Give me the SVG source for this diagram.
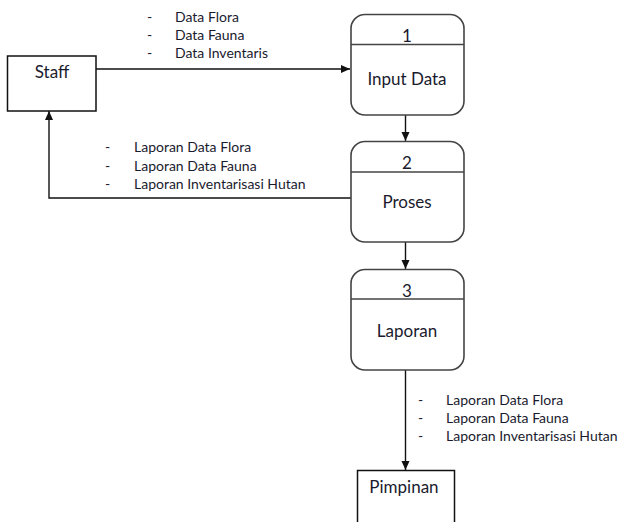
<svg xmlns="http://www.w3.org/2000/svg" width="620" height="522" viewBox="0 0 620 522">
<style>
.t{font-family:Lato,"Liberation Sans",sans-serif;font-size:14px;fill:#1a1a2e}
.n{font-family:Lato,"Liberation Sans",sans-serif;font-size:17px;fill:#1a1a2e;text-anchor:middle}
.ent{fill:#fff;stroke:#111;stroke-width:1.5}
.proc{fill:#fff;stroke:#444;stroke-width:1.6}
.div{stroke:#444;stroke-width:1.4}
.c{fill:none;stroke:#111;stroke-width:1.4}
</style>
<defs>
<marker id="ah" markerWidth="10" markerHeight="10" refX="9" refY="5" orient="auto" markerUnits="userSpaceOnUse">
<path d="M0,1 L9,5 L0,9 Z" fill="#111"/>
</marker>
</defs>
<rect width="620" height="522" fill="#fff"/>
<g id="connectors">
<line class="c" x1="96" y1="69" x2="350" y2="69" marker-end="url(#ah)"/>
<line class="c" x1="405.5" y1="115" x2="405.5" y2="141" marker-end="url(#ah)"/>
<line class="c" x1="405.5" y1="242" x2="405.5" y2="269" marker-end="url(#ah)"/>
<line class="c" x1="405.5" y1="370" x2="405.5" y2="470" marker-end="url(#ah)"/>
<polyline class="c" points="351,198 49,198 49,111" marker-end="url(#ah)"/>
<g id="label-in">
<text class="t" x="147" y="22">-</text><text class="t" x="175" y="22">Data Flora</text>
<text class="t" x="147" y="40">-</text><text class="t" x="175" y="40">Data Fauna</text>
<text class="t" x="147" y="58">-</text><text class="t" x="175" y="58">Data Inventaris</text>
</g>
<g id="label-back">
<text class="t" x="105" y="152">-</text><text class="t" x="134" y="152">Laporan Data Flora</text>
<text class="t" x="105" y="171">-</text><text class="t" x="134" y="171">Laporan Data Fauna</text>
<text class="t" x="105" y="189">-</text><text class="t" x="134" y="189">Laporan Inventarisasi Hutan</text>
</g>
<g id="label-out">
<text class="t" x="418" y="405">-</text><text class="t" x="446" y="405">Laporan Data Flora</text>
<text class="t" x="418" y="423">-</text><text class="t" x="446" y="423">Laporan Data Fauna</text>
<text class="t" x="418" y="441">-</text><text class="t" x="446" y="441">Laporan Inventarisasi Hutan</text>
</g>
</g>
<g id="staff">
<rect class="ent" x="7.5" y="56" width="88.5" height="55"/>
<text class="n" x="52" y="78">Staff</text>
</g>
<g id="p1">
<rect class="proc" x="351" y="14.5" width="113" height="100.5" rx="14"/>
<line class="div" x1="351" y1="44.5" x2="464" y2="44.5"/>
<text class="n" x="407" y="42">1</text>
<text class="n" x="407" y="85">Input Data</text>
</g>
<g id="p2">
<rect class="proc" x="351" y="141.5" width="113" height="100.5" rx="14"/>
<line class="div" x1="351" y1="172" x2="464" y2="172"/>
<text class="n" x="407" y="169">2</text>
<text class="n" x="407" y="208">Proses</text>
</g>
<g id="p3">
<rect class="proc" x="351" y="269.5" width="113" height="100.5" rx="14"/>
<line class="div" x1="351" y1="299" x2="464" y2="299"/>
<text class="n" x="407" y="297">3</text>
<text class="n" x="407" y="337">Laporan</text>
</g>
<g id="pimpinan">
<rect class="ent" x="357.5" y="470.5" width="97" height="60"/>
<text class="n" x="404" y="493">Pimpinan</text>
</g>
</svg>
